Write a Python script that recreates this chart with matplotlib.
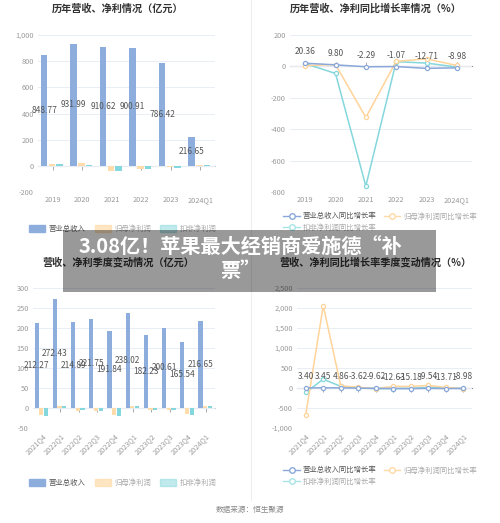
import matplotlib
matplotlib.use('Agg')
import matplotlib.pyplot as plt
import numpy as np
from matplotlib.patches import Patch, Rectangle
from matplotlib.lines import Line2D
from matplotlib.ticker import FuncFormatter

plt.rcParams['font.family'] = ['Noto Sans CJK SC', 'DejaVu Sans']

# annual data (亿元, %)
years = ['2019', '2020', '2021', '2022', '2023', '2024Q1']
rev_y = [848.77, 931.99, 910.62, 900.91, 786.42, 216.65]
net_y = [14, 18, -38, -25, -12, 6]
ded_y = [11, 3, -40, -22, -17, 3]
rev_g_y = [20.36, 9.80, -2.29, -1.07, -12.71, -8.98]
net_g_y = [5, 12, -325, 32, 48, 6]
ded_g_y = [18, -45, -762, 30, 21, -4]

# quarterly data
quarters = ['2021Q4', '2022Q1', '2022Q2', '2022Q3', '2022Q4',
            '2023Q1', '2023Q2', '2023Q3', '2023Q4', '2024Q1']
rev_q = [212.27, 272.43, 214.89, 221.75, 191.84, 238.02, 182.23, 200.61, 165.54, 216.65]
net_q = [-17, 4, -7, -8, -18, 6, -4, -4, -14, 6]
ded_q = [-21, 6, -6, -8, -19, 6, -6, -6, -17, 6]
rev_g_q = [3.40, 3.45, 4.86, -3.62, -9.62, -12.63, -15.18, -9.54, -13.71, -8.98]
net_g_q = [-667, 2058, 55, 17, -15, 40, 40, 63, 16, -16]
ded_g_q = [-110, 220, 40, 5, -15, -15, -10, 15, 0, -15]

C_REV = '#8DAEDD'
C_NET = '#FFDCAA'
C_DED = '#84D7DC'
GRID = '#E9EDF5'
TICK = '#9A9A9A'

W, H = 500, 523
fig = plt.figure(figsize=(W / 100, H / 100), dpi=100)


def px_axes(l, t, r, b):
    return fig.add_axes([l / W, 1 - b / H, (r - l) / W, (b - t) / H])


def style(ax, ylim, yticks, zero_color):
    ax.set_ylim(*ylim)
    ax.set_yticks(yticks)
    ax.yaxis.set_major_formatter(FuncFormatter(lambda v, p: f'{v:,.0f}'))
    for s in ax.spines.values():
        s.set_visible(False)
    ax.yaxis.grid(True, color=GRID, lw=0.7)
    ax.set_axisbelow(True)
    ax.tick_params(axis='both', length=0, labelsize=5.3, labelcolor=TICK, pad=3)
    frac = (0 - ylim[0]) / (ylim[1] - ylim[0])
    sec = ax.secondary_xaxis(frac)
    sec.set_xticks(ax.get_xticks())
    sec.set_xticklabels([])
    sec.tick_params(length=3, width=0.6, color=TICK)
    for k, s in sec.spines.items():
        s.set_visible(k == 'bottom')
    sec.spines['bottom'].set_color(zero_color)
    sec.spines['bottom'].set_linewidth(0.8)


def bars(ax, cats, rev, net, ded, wd, offs):
    x = np.arange(len(cats))
    ax.bar(x + offs[0], rev, wd, color=C_REV, zorder=3)
    ax.bar(x + offs[1], net, wd, color=C_NET, zorder=3)
    ax.bar(x + offs[2], ded, wd, color=C_DED, zorder=3)
    for xi, v in zip(x, rev):
        ax.text(xi + offs[0], v / 2, f'{v:.2f}', ha='center', va='center',
                fontsize=6, color='#555555', zorder=5)
    ax.set_xlim(-0.5, len(cats) - 0.5)
    ax.set_xticks(x)


def lines(ax, cats, a, b, c):
    x = np.arange(len(cats))
    kw = dict(lw=1.1, marker='o', markersize=3, markerfacecolor='white', markeredgewidth=0.9)
    ax.plot(x, c, color=C_DED, zorder=3, **kw)
    ax.plot(x, b, color='#FFD49A', zorder=3, **kw)
    ax.plot(x, a, color='#8AA8DA', zorder=4, **kw)
    for xi, v in zip(x, a):
        ax.annotate(f'{v:.2f}', (xi, v), xytext=(0, 5), textcoords='offset points',
                    ha='center', va='bottom', fontsize=6, color='#555555', zorder=5)
    ax.set_xlim(-0.5, len(cats) - 0.5)
    ax.set_xticks(x)


# top-left
ax1 = px_axes(38, 35, 215, 192)
bars(ax1, years, rev_y, net_y, ded_y, 0.22, (-0.29, -0.02, 0.23))
style(ax1, (-200, 1000), range(-200, 1001, 200), '#C9CFDA')
ax1.set_xticklabels(years)

# top-right
ax2 = px_axes(290, 35, 472, 192)
lines(ax2, years, rev_g_y, net_g_y, ded_g_y)
style(ax2, (-800, 200), range(-800, 201, 200), '#8A8A8A')
ax2.set_xticklabels(years)

# bottom-left
ax3 = px_axes(33, 288, 215, 428)
bars(ax3, quarters, rev_q, net_q, ded_q, 0.23, (-0.3, -0.04, 0.22))
style(ax3, (-50, 300), range(-50, 301, 50), '#C9CFDA')
ax3.set_xticklabels(quarters, rotation=45, ha='right', rotation_mode='anchor')

# bottom-right
ax4 = px_axes(297, 288, 472, 428)
lines(ax4, quarters, rev_g_q, net_g_q, ded_g_q)
style(ax4, (-1000, 2500), range(-1000, 2501, 500), '#8A8A8A')
ax4.set_xticklabels(quarters, rotation=45, ha='right', rotation_mode='anchor')

# titles
tkw = dict(ha='center', va='center', fontsize=7.3, fontweight='bold', color='#333333')
fig.text(118 / W, 1 - 9 / H, '历年营收、净利情况（亿元）', **tkw)
fig.text(376 / W, 1 - 9 / H, '历年营收、净利同比增长率情况（%）', **tkw)
fig.text(118 / W, 1 - 262 / H, '营收、净利季度变动情况（亿元）', **tkw)
fig.text(375 / W, 1 - 262 / H, '营收、净利同比增长率季度变动情况（%）', **tkw)

# legends
bar_handles = [Patch(color=C_REV), Patch(color=C_NET, alpha=0.7), Patch(color=C_DED, alpha=0.5)]
bar_labels = ['营业总收入', '归母净利润', '扣非净利润']
for y in (229, 483):
    lg = fig.legend(bar_handles, bar_labels, loc='center', bbox_to_anchor=(123 / W, 1 - y / H),
                    ncol=3, frameon=False, fontsize=5.3, handlelength=2.2, handleheight=1.1,
                    columnspacing=1.2, handletextpad=0.5)
    for t, c in zip(lg.get_texts(), ['#555555', '#AAAAAA', '#AAAAAA']):
        t.set_color(c)

mk = dict(marker='o', markersize=4, markerfacecolor='white', lw=1)
line_handles = [Line2D([], [], color='#8AA8DA', **mk),
                Line2D([], [], color='#A8E4E6', **mk),
                Line2D([], [], color='#FFD9A6', **mk)]
line_labels = ['营业总收入同比增长率', '扣非净利润同比增长率', '归母净利润同比增长率']
for y in (222, 476):
    lg = fig.legend(line_handles, line_labels, loc='center', bbox_to_anchor=(380 / W, 1 - y / H),
                    ncol=2, frameon=False, fontsize=5.3, handlelength=2.2,
                    columnspacing=1.0, handletextpad=0.4, labelspacing=0.45)
    for t, c in zip(lg.get_texts(), ['#555555', '#AAAAAA', '#AAAAAA']):
        t.set_color(c)

fig.text(0.5, 1 - 510 / H, '数据来源：恒生聚源', ha='center', va='center', fontsize=5.5, color='#888888')

# separator
fig.add_artist(Line2D([251 / W, 251 / W], [1 - 500 / H, 1], color='#EEEEEE', lw=0.8))

# headline banner
fig.patches.append(Rectangle((63 / W, 1 - 292 / H), 373 / W, 62 / H, transform=fig.transFigure,
                             facecolor='black', alpha=0.4, edgecolor='none', zorder=10))
fig.text(240 / W, 1 - 259 / H, '3.08亿！苹果最大经销商爱施德“补\n票”', ha='center', va='center',
         fontsize=14.5, fontweight='bold', color='white', linespacing=1.1, zorder=11)

fig.savefig('out.png', dpi=100)
